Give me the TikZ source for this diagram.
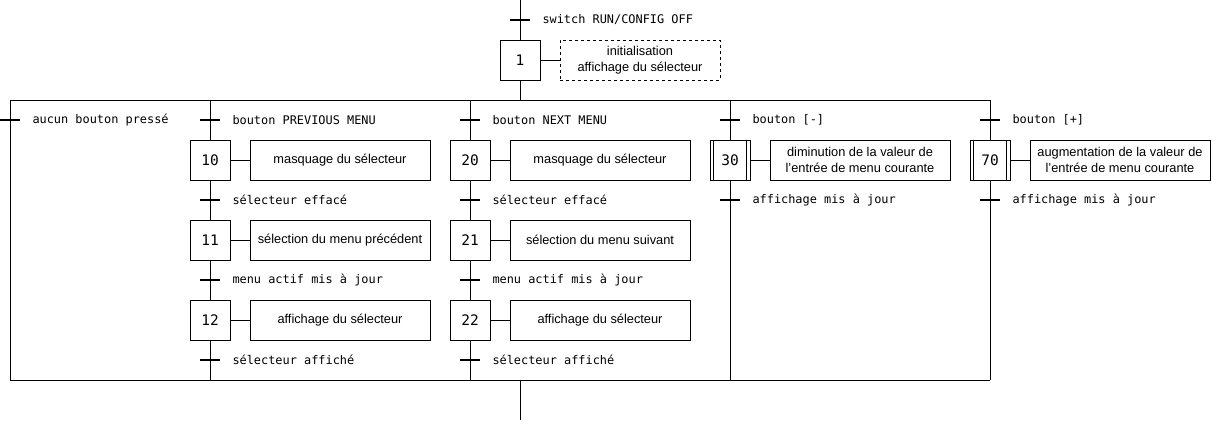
\documentclass[tikz,border=0pt]{standalone}
\usepackage{fontspec}
\setmainfont{Liberation Sans}
\setmonofont{DejaVu Sans Mono}
\begin{document}
\begin{tikzpicture}[x=1pt,y=-1pt,line width=1pt,
  stepbox/.style={draw,minimum width=40pt,minimum height=40pt,inner sep=0pt,
    font=\ttfamily\fontsize{14.5}{14}\selectfont},
  actbox/.style={draw,minimum width=180pt,minimum height=40pt,inner sep=2pt,align=center,
    font=\fontsize{12.8}{16.5}\selectfont},
  trnode/.style={fill=black,minimum width=20pt,minimum height=2pt,inner sep=0pt,outer sep=0pt},
  trlabel/.style={anchor=west,inner sep=0pt,font=\ttfamily\fontsize{11.9}{12}\selectfont},
  dbl/.style={append after command={
     ([xshift=4pt]\tikzlastnode.north west) edge ([xshift=4pt]\tikzlastnode.south west)
     ([xshift=-4pt]\tikzlastnode.north east) edge ([xshift=-4pt]\tikzlastnode.south east)}}
]
\useasboundingbox (0,0) rectangle (1212,423);

% initial step
\coordinate (top) at (520,0);
\node[stepbox] (s1) at (520,60) {1};
\node[actbox,dashed,minimum width=160pt] (a1) at (640,60) {initialisation\\affichage du sélecteur};
\draw (s1.east) -- (a1.west);
\draw (top) -- (s1.north);
\node[trnode] (t0) at (520,20) {};
\node[trlabel] (l0) at (542,20) {switch RUN/CONFIG OFF};

% divergence
\coordinate (dl) at (10,100);
\coordinate (dr) at (990,100);
\coordinate (dm) at (520,100);
\draw (s1.south) -- (dm);
\draw (dl) -- (dr);

% convergence
\coordinate (jl) at (10,380);
\coordinate (jr) at (990,380);
\coordinate (jm) at (520,380);
\coordinate (bot) at (520,420);
\draw (jl) -- (jr);
\draw (jm) -- (bot);
\draw (dl) -- (jl);

% left branch
\node[trnode] (tL) at (10,120) {};
\node[trlabel] (lL) at (32,120) {aucun bouton pressé};

% column PREVIOUS MENU
\coordinate (dA) at (210,100);
\coordinate (jA) at (210,380);
\node[stepbox] (s10) at (210,160) {10};
\node[stepbox] (s11) at (210,240) {11};
\node[stepbox] (s12) at (210,320) {12};
\node[actbox] (a10) at (340,160) {masquage du sélecteur};
\node[actbox] (a11) at (340,240) {sélection du menu précédent};
\node[actbox] (a12) at (340,320) {affichage du sélecteur};
\draw (dA) -- (s10.north) (s10.south) -- (s11.north) (s11.south) -- (s12.north) (s12.south) -- (jA);
\draw (s10.east) -- (a10.west) (s11.east) -- (a11.west) (s12.east) -- (a12.west);
\node[trnode] (tA1) at (210,120) {};
\node[trnode] (tA2) at (210,200) {};
\node[trnode] (tA3) at (210,280) {};
\node[trnode] (tA4) at (210,360) {};
\node[trlabel] (lA1) at (232,120) {bouton PREVIOUS MENU};
\node[trlabel] (lA2) at (232,200) {sélecteur effacé};
\node[trlabel] (lA3) at (232,280) {menu actif mis à jour};
\node[trlabel] (lA4) at (232,360) {sélecteur affiché};

% column NEXT MENU
\coordinate (dB) at (470,100);
\coordinate (jB) at (470,380);
\node[stepbox] (s20) at (470,160) {20};
\node[stepbox] (s21) at (470,240) {21};
\node[stepbox] (s22) at (470,320) {22};
\node[actbox] (a20) at (600,160) {masquage du sélecteur};
\node[actbox] (a21) at (600,240) {sélection du menu suivant};
\node[actbox] (a22) at (600,320) {affichage du sélecteur};
\draw (dB) -- (s20.north) (s20.south) -- (s21.north) (s21.south) -- (s22.north) (s22.south) -- (jB);
\draw (s20.east) -- (a20.west) (s21.east) -- (a21.west) (s22.east) -- (a22.west);
\node[trnode] (tB1) at (470,120) {};
\node[trnode] (tB2) at (470,200) {};
\node[trnode] (tB3) at (470,280) {};
\node[trnode] (tB4) at (470,360) {};
\node[trlabel] (lB1) at (492,120) {bouton NEXT MENU};
\node[trlabel] (lB2) at (492,200) {sélecteur effacé};
\node[trlabel] (lB3) at (492,280) {menu actif mis à jour};
\node[trlabel] (lB4) at (492,360) {sélecteur affiché};

% column [-]
\coordinate (dC) at (730,100);
\coordinate (jC) at (730,380);
\node[stepbox,dbl] (s30) at (730,160) {30};
\node[actbox] (a30) at (860,160) {diminution de la valeur de\\l'entrée de menu courante};
\draw (dC) -- (s30.north) (s30.south) -- (jC);
\draw (s30.east) -- (a30.west);
\node[trnode] (tC1) at (730,120) {};
\node[trnode] (tC2) at (730,200) {};
\node[trlabel] (lC1) at (752,120) {bouton [-]};
\node[trlabel] (lC2) at (752,200) {affichage mis à jour};

% column [+]
\coordinate (dD) at (990,100);
\coordinate (jD) at (990,380);
\node[stepbox,dbl] (s70) at (990,160) {70};
\node[actbox] (a70) at (1120,160) {augmentation de la valeur de\\l'entrée de menu courante};
\draw (dD) -- (s70.north) (s70.south) -- (jD);
\draw (s70.east) -- (a70.west);
\node[trnode] (tD1) at (990,120) {};
\node[trnode] (tD2) at (990,200) {};
\node[trlabel] (lD1) at (1012,120) {bouton [+]};
\node[trlabel] (lD2) at (1012,200) {affichage mis à jour};
\end{tikzpicture}
\end{document}
